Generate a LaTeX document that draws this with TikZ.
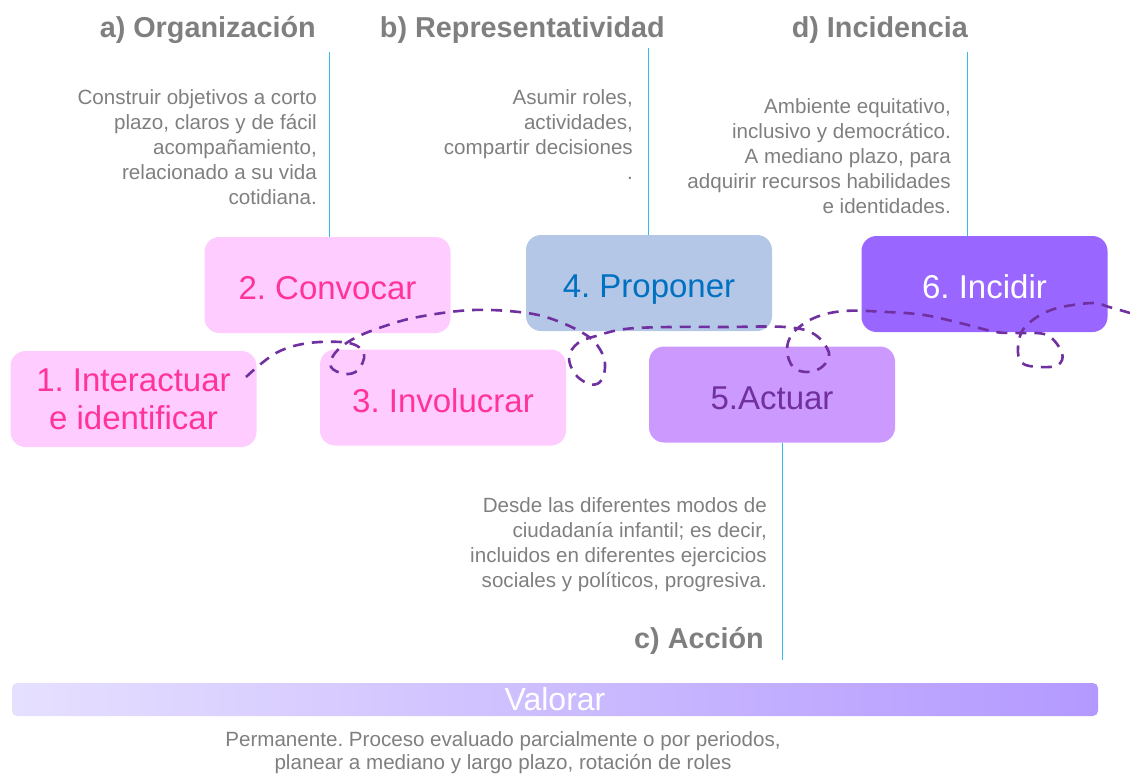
\documentclass[tikz,border=0pt]{standalone}
\usepackage{fontspec}
\setmainfont{Liberation Sans}
\usepackage{tikz}
\frenchspacing

\definecolor{pinkfill}{HTML}{FFCCFF}
\definecolor{pinktext}{HTML}{FF3399}
\definecolor{bluefill}{HTML}{B4C7E7}
\definecolor{bluetext}{HTML}{0070C0}
\definecolor{lilafill}{HTML}{CC99FF}
\definecolor{lilatext}{HTML}{7030A0}
\definecolor{violfill}{HTML}{9966FF}
\definecolor{grisnota}{HTML}{7F7F7F}
\definecolor{celeste}{HTML}{33BBEE}
\definecolor{valizq}{HTML}{E6E0FF}
\definecolor{valder}{HTML}{B399FF}

\begin{document}
\begin{tikzpicture}[x=1pt,y=-1pt,
	etapa/.style={rounded corners=15pt, minimum width=246pt, minimum height=96pt, inner sep=0pt, align=center, font=\fontsize{33}{38}\selectfont},
	linea/.style={text height=31pt, text depth=2pt},
	titulo/.style={anchor=east, inner sep=0pt, text=grisnota, font=\fontsize{28.8}{32}\selectfont\bfseries},
	nota/.style={anchor=north east, inner sep=0pt, align=right, text=grisnota, font=\fontsize{20.6}{25}\selectfont},
	guia/.style={celeste, line width=0.8pt}]
	\useasboundingbox (0,0) rectangle (1130,776);
	
	% etapas
	\node[etapa, fill=pinkfill, text=pinktext] (b1) at (133.5,399) {1. Interactuar\\e identificar};
	\node[etapa, linea, fill=pinkfill, text=pinktext] (b2) at (327.5,285) {2. Convocar};
	\node[etapa, linea, fill=pinkfill, text=pinktext] (b3) at (443,397.5) {3. Involucrar};
	\node[etapa, linea, fill=bluefill, text=bluetext] (b4) at (649,283) {4. Proponer};
	\node[etapa, linea, fill=lilafill, text=lilatext] (b5) at (772,394.5) {5.Actuar};
	\node[etapa, linea, fill=violfill, text=white] (b6) at (984.5,284) {6. Incidir};
	
	% titulos y lineas guia
	\node[titulo] (ta) at (316,30) {a) Organización};
	\node[titulo] (tb) at (665,30) {b) Representatividad};
	\node[titulo] (td) at (968,30) {d) Incidencia};
	\node[titulo] (tc) at (764,641) {c) Acción};
	\coordinate (la) at (329,52);
	\coordinate (lb) at (648,48);
	\coordinate (ld) at (967,52);
	\coordinate (lc) at (782,660);
	\draw[guia] (la) -- (la |- b2.north);
	\draw[guia] (lb) -- (lb |- b4.north);
	\draw[guia] (ld) -- (ld |- b6.north);
	\draw[guia] (lc) -- (lc |- b5.south);
	
	\node[nota] (na) at (317,89) {Construir objetivos a corto\\plazo, claros y de fácil\\acompañamiento,\\relacionado a su vida\\cotidiana.};
	\node[nota] (nb) at (633,89) {Asumir roles,\\actividades,\\compartir decisiones\\.};
	\node[nota] (nd) at (951,98) {Ambiente equitativo,\\inclusivo y democrático.\\A mediano plazo, para\\adquirir recursos habilidades\\e identidades.};
	\node[nota] (nc) at (767,497) {Desde las diferentes modos de\\ciudadanía infantil; es decir,\\incluidos en diferentes ejercicios\\sociales y políticos, progresiva.};
	
	% barra inferior
	\shade[left color=valizq, right color=valder, rounded corners=5pt] (12,683) rectangle (1098,716);
	\node[inner sep=0pt, text=white, font=\fontsize{32}{38}\selectfont] (val) at (555,699) {Valorar};
	\node[anchor=north, inner sep=0pt, align=center, text=grisnota, font=\fontsize{20.6}{23.5}\selectfont] (nv) at (503,731) {Permanente. Proceso evaluado parcialmente o por periodos,\\planear a mediano y largo plazo, rotación de roles};
	
	% recorrido
	\draw[lilatext, line width=2.6pt, dash pattern=on 11pt off 8pt] plot[smooth, tension=0.6] coordinates {
		(246,377) (276,353) (309,343) (349,343) (364,354) (358,370) (345,374) (331,367) (335,353) (353,339) (382,327) (418,317) (473,310) (527,313) (560,322) (589,337) (602,353) (605,368) (600,382) (589,384) (575,374) (569,357) (578,343) (596,336) (625,329) (669,327) (724,327) (785,327) (814,334) (829,353) (822,367) (807,372) (793,367) (787,350) (793,333) (814,318) (844,311) (887,312) (924,315) (960,323) (996,332) (1018,333) (1047,335) (1062,353) (1058,365) (1040,367) (1022,363) (1018,347) (1025,327) (1051,310) (1091,303) (1109,307) (1130,313)};
\end{tikzpicture}
\end{document}
